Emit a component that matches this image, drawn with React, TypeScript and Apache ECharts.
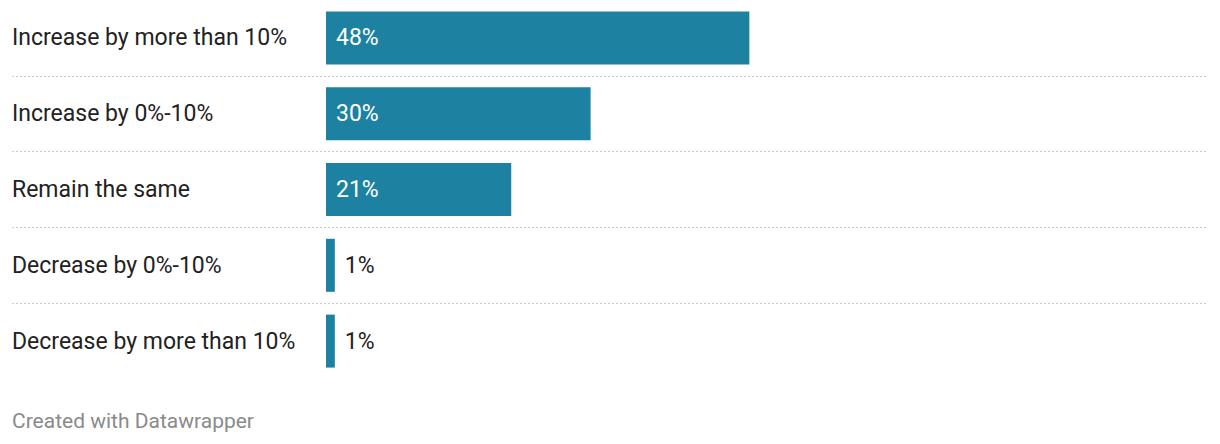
import React, { useEffect, useRef } from "react";
import * as echarts from "echarts";

const categories = [
  "Increase by more than 10%",
  "Increase by 0%-10%",
  "Remain the same",
  "Decrease by 0%-10%",
  "Decrease by more than 10%",
];
const values = [48, 30, 21, 1, 1];
const footerText = "Created with Datawrapper";

const FONT = "Roboto, 'Noto Sans', sans-serif";

export default function App() {
  const ref = useRef<HTMLDivElement>(null);
  useEffect(() => {
    if (!ref.current) return;
    const chart = echarts.init(ref.current, null, { renderer: "svg" });
    const top = -1;
    const height = 380;
    chart.setOption({
      animation: false,
      textStyle: { fontFamily: FONT },
      grid: [
        { left: 12, right: 12, top, height, containLabel: false },
        { left: 326, right: 12, top, height, containLabel: false },
      ],
      xAxis: [
        { type: "value", gridIndex: 0, min: 0, max: 100, show: false },
        { type: "value", gridIndex: 1, min: 0, max: 100, show: false },
      ],
      yAxis: [
        {
          type: "category",
          gridIndex: 0,
          data: categories,
          inverse: true,
          axisLine: { show: false },
          axisTick: { show: false },
          axisLabel: { show: false },
          splitLine: {
            show: true,
            showMinLine: false,
            showMaxLine: false,
            lineStyle: { color: "#cccccc", width: 1, type: [2, 2] },
          },
        },
        {
          type: "category",
          gridIndex: 1,
          data: categories,
          inverse: true,
          axisLine: { show: false },
          axisTick: { show: false },
          splitLine: { show: false },
          axisLabel: {
            show: true,
            align: "left",
            margin: 314,
            fontSize: 23,
            color: "#222222",
            fontFamily: FONT,
          },
        },
      ],
      series: [
        {
          type: "bar",
          xAxisIndex: 1,
          yAxisIndex: 1,
          barWidth: 53,
          itemStyle: { color: "#1d81a2" },
          data: values.map((v) => ({
            value: v,
            label: {
              show: true,
              position: v >= 10 ? "insideLeft" : "right",
              distance: 10,
              formatter: "{c}%",
              fontSize: 23,
              fontFamily: FONT,
              color: v >= 10 ? "#ffffff" : "#222222",
            },
          })),
        },
      ],
      graphic: [
        {
          type: "text",
          left: 12,
          top: 410,
          style: {
            text: footerText,
            fontSize: 21,
            fontFamily: FONT,
            fill: "#8a8a8a",
          },
        },
      ],
    });
    return () => chart.dispose();
  }, []);
  return <div ref={ref} style={{ width: 1220, height: 444, margin: -8 }} />;
}
